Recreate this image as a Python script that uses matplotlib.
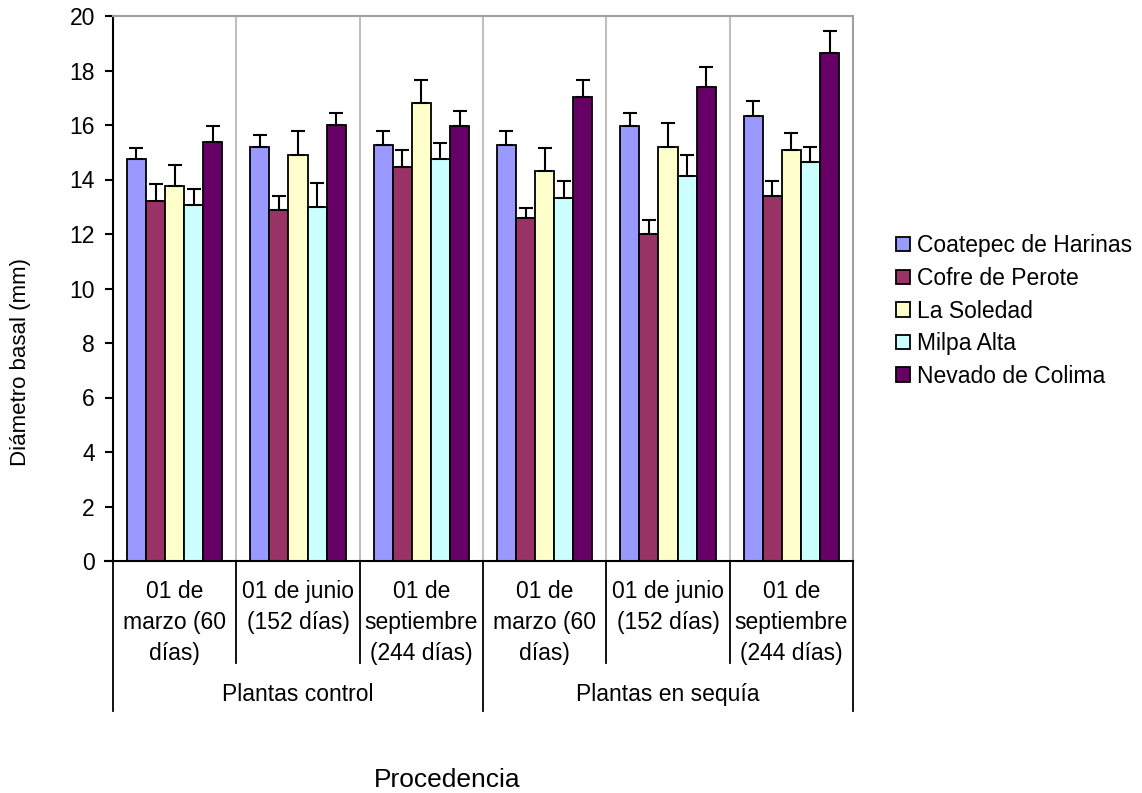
import numpy as np
import matplotlib
matplotlib.use("Agg")
import matplotlib.pyplot as plt
from matplotlib.transforms import blended_transform_factory

# ── 1. Données ─────────────────────────────
fechas = ["01 de\nmarzo (60\ndías)", "01 de junio\n(152 días)", "01 de\nseptiembre\n(244 días)",
          "01 de\nmarzo (60\ndías)", "01 de junio\n(152 días)", "01 de\nseptiembre\n(244 días)"]
tratamientos = ["Plantas control", "Plantas en sequía"]
procedencias = ["Coatepec de Harinas", "Cofre de Perote", "La Soledad", "Milpa Alta", "Nevado de Colima"]

coatepec = [14.75, 15.20, 15.27, 15.27, 15.95, 16.33]
cofre    = [13.20, 12.88, 14.45, 12.58, 12.01, 13.39]
soledad  = [13.76, 14.90, 16.82, 14.32, 15.20, 15.08]
milpa    = [13.06, 13.00, 14.75, 13.32, 14.14, 14.64]
nevado   = [15.39, 16.01, 15.95, 17.02, 17.39, 18.65]

coatepec_err = [0.40, 0.43, 0.50, 0.50, 0.50, 0.56]
cofre_err    = [0.63, 0.51, 0.63, 0.37, 0.50, 0.55]
soledad_err  = [0.76, 0.87, 0.83, 0.82, 0.87, 0.63]
milpa_err    = [0.58, 0.88, 0.58, 0.62, 0.76, 0.56]
nevado_err   = [0.57, 0.43, 0.56, 0.63, 0.75, 0.80]

series = [coatepec, cofre, soledad, milpa, nevado]
errores = [coatepec_err, cofre_err, soledad_err, milpa_err, nevado_err]
colores = ["#9999FF", "#993366", "#FFFFCC", "#CCFFFF", "#660066"]

plt.rcParams["font.family"] = ["Liberation Sans", "DejaVu Sans"]

# ── 2. Figure ─────────────────────────────
W, H = 1142, 793
fig = plt.figure(figsize=(W / 100, H / 100), dpi=100)
ax = fig.add_axes([113 / W, 1 - 561 / H, 740 / W, 545 / H])

x = np.arange(len(fechas))
w = 0.155
for k, (vals, err, col, nom) in enumerate(zip(series, errores, colores, procedencias)):
    pos = x + (k - 2) * w
    ax.bar(pos, vals, width=w, color=col, edgecolor="black", linewidth=1.3, label=nom, zorder=3)
    ax.errorbar(pos, vals, yerr=[np.zeros(len(err)), err], fmt="none", ecolor="black",
                elinewidth=1.5, capsize=5, capthick=1.5, zorder=4)

ax.set_xlim(-0.5, len(fechas) - 0.5)
ax.set_ylim(0, 20)
ax.set_yticks(np.arange(0, 21, 2))
ax.tick_params(axis="y", direction="out", length=6, width=1.5, labelsize=16.5, pad=7)
ax.set_xticks([])

# separadores de grupos
for b in x[:-1] + 0.5:
    ax.axvline(b, color="#c0c0c0", linewidth=1.5, zorder=1)

ax.spines["top"].set_color("#a0a0a0")
ax.spines["right"].set_color("#a0a0a0")
ax.spines["top"].set_linewidth(1.5)
ax.spines["right"].set_linewidth(1.5)
ax.spines["left"].set_linewidth(1.5)
ax.spines["bottom"].set_visible(False)

# ── 3. Eje x en tabla ─────────────────────────────
trans = blended_transform_factory(ax.transData, ax.transAxes)
ax.plot([-0.5 - 0.011 * len(fechas), len(fechas) - 0.5], [0, 0], color="black", lw=1.5,
        transform=trans, clip_on=False, zorder=5)
bordes = np.arange(len(fechas) + 1) - 0.5
for i, b in enumerate(bordes):
    fondo = -0.275 if i % 3 == 0 else -0.188
    ax.plot([b, b], [0, fondo], color="black", lw=1.3, transform=trans, clip_on=False)
for i, f in enumerate(fechas):
    ax.text(i, -0.034, f, transform=trans, ha="center", va="top", fontsize=16.5,
            linespacing=1.45)
for j, t in enumerate(tratamientos):
    ax.text(1 + 3 * j, -0.245, t, transform=trans, ha="center", va="center", fontsize=16.5)

# ── 4. Textos y leyenda ─────────────────────────────
fig.text(21 / W, 1 - 362 / H, "Diámetro basal (mm)", rotation=90, ha="center", va="center",
         fontsize=16)
fig.text(447 / W, 1 - 780 / H, "Procedencia", ha="center", va="center", fontsize=19)

fig.legend(loc="center left", bbox_to_anchor=(896 / W, 1 - 311 / H), frameon=False,
           fontsize=16.5, handlelength=0.6, handleheight=0.6, handletextpad=0.3,
           labelspacing=0.42, borderaxespad=0, borderpad=0)

fig.savefig("out.png", dpi=100)
